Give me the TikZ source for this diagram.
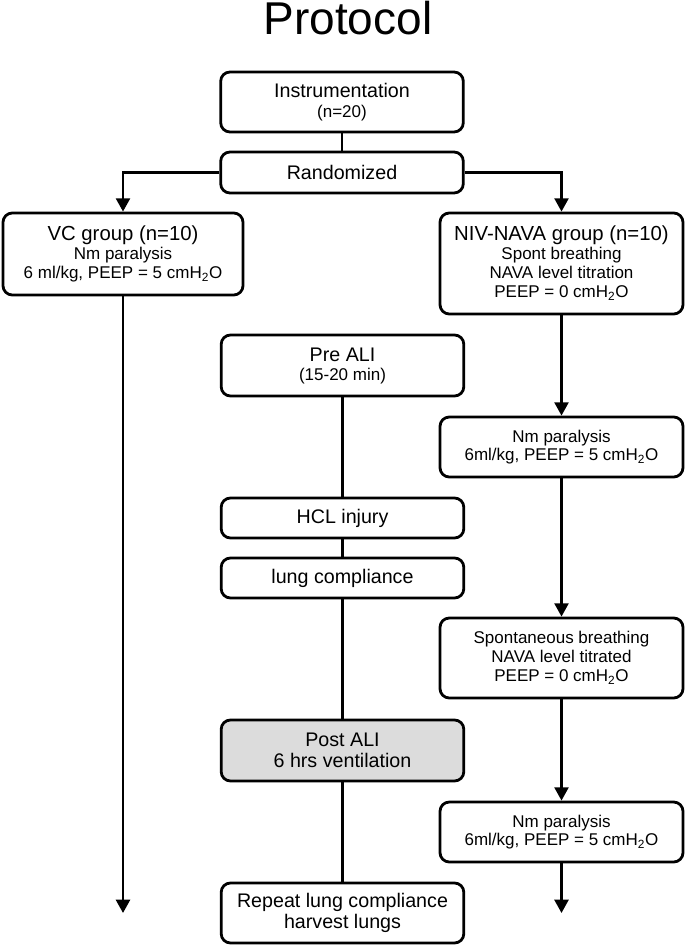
\documentclass[tikz,border=0pt]{standalone}
\usepackage{fontspec}
\setmainfont{Liberation Sans}
\usetikzlibrary{arrows.meta}

\newcommand{\bigtxt}{\fontsize{14.75}{15.75}\selectfont}
\newcommand{\smalltxt}{\fontsize{12.75}{15.75}\selectfont}
\newcommand{\grouptxt}{\fontsize{15.25}{15.75}\selectfont}
\definecolor{postgray}{RGB}{220,220,220}

\tikzset{
  stepbox/.style={draw, line width=2.1pt, rounded corners=7pt, align=center,
    inner sep=0pt, minimum width=182pt, font=\bigtxt},
  linegap/.style={font={\bigtxt\lineskiplimit=-20pt\baselineskip=#1}},
  link/.style={line width=1.9pt},
  arr/.style={line width=1.9pt, -{Triangle[width=10.5pt,length=10pt]}}
}

\begin{document}
\begin{tikzpicture}[x=0.75pt,y=0.75pt,yscale=-1,xscale=1]
\useasboundingbox (0,0) rectangle (685,945);

% Title
\node (title) [anchor=base, inner sep=0pt] at (348,35) {\fontsize{34.5}{34.5}\selectfont Protocol};

%Shape: Rounded Rect [top column]
\node (instr) [stepbox, linegap=15pt, minimum height=45pt] at (342,102) {Instrumentation\\\smalltxt (n=20)};
\node (rand) [stepbox, minimum height=30.75pt] at (342,172.5) {Randomized};

%Shape: Rounded Rect [VC group]
\node (vc) [stepbox, linegap=14.25pt, minimum width=180pt, minimum height=61.5pt] at (123,254) {\grouptxt VC group (n=10)\\\smalltxt Nm paralysis\\\smalltxt 6 ml/kg, PEEP = 5 cmH\textsubscript{2}O};

%Shape: Rounded Rect [NIV-NAVA group]
\node (niv) [stepbox, linegap=14.25pt, minimum width=182.25pt, minimum height=75.75pt] at (561.5,263.5) {\grouptxt NIV-NAVA group (n=10)\\\smalltxt Spont breathing\\\smalltxt NAVA level titration\\\smalltxt PEEP = 0 cmH\textsubscript{2}O};
\node (nma) [stepbox, linegap=13.7pt, minimum width=182.25pt, minimum height=45pt] at (561.5,447) {\smalltxt Nm paralysis\\\smalltxt 6ml/kg, PEEP = 5 cmH\textsubscript{2}O};
\node (spont) [stepbox, linegap=14.25pt, minimum width=182.25pt, minimum height=60pt] at (561.5,658) {\smalltxt Spontaneous breathing\\\smalltxt NAVA level titrated\\\smalltxt PEEP = 0 cmH\textsubscript{2}O};
\node (nmb) [stepbox, linegap=13.7pt, minimum width=182.25pt, minimum height=45pt] at (561.5,832) {\smalltxt Nm paralysis\\\smalltxt 6ml/kg, PEEP = 5 cmH\textsubscript{2}O};

%Shape: Rounded Rect [middle column]
\node (pre) [stepbox, linegap=14.25pt, minimum height=45.75pt] at (342.5,365.5) {Pre ALI\\\smalltxt (15-20 min)};
\node (hcl) [stepbox, minimum height=30pt] at (342.5,518) {HCL injury};
\node (lung) [stepbox, minimum height=30pt] at (342.5,578) {lung compliance};
\node (post) [stepbox, linegap=15.75pt, fill=postgray, minimum height=45.75pt] at (342.5,750.5) {Post ALI\\6 hrs ventilation};
\node (rep) [stepbox, linegap=16pt, minimum height=45pt] at (342.5,913) {Repeat lung compliance\\harvest lungs};

% free arrow ends
\coordinate (vcend) at (123,913);
\coordinate (nivend) at (561.5,913);

%Straight Lines
\draw [link] (instr) -- (rand);
\draw [arr] (rand.west) -| (vc.north);
\draw [arr] (rand.east) -| (niv.north);
\draw [arr] (vc) -- (vcend);
\draw [arr] (niv) -- (nma);
\draw [arr] (nma) -- (spont);
\draw [arr] (spont) -- (nmb);
\draw [arr] (nmb) -- (nivend);
\draw [link] (pre) -- (hcl);
\draw [link] (hcl) -- (lung);
\draw [link] (lung) -- (post);
\draw [link] (post) -- (rep);
\end{tikzpicture}
\end{document}
